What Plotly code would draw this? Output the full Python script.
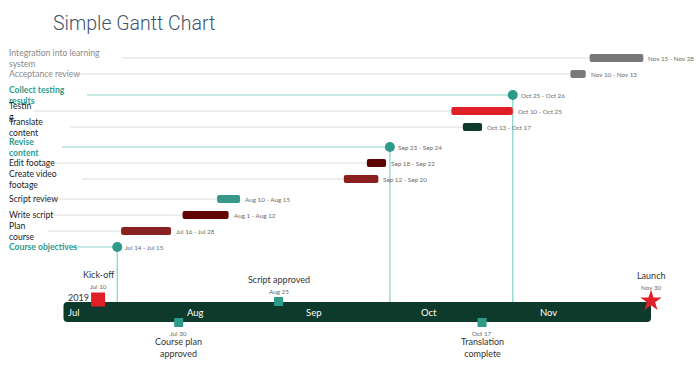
import datetime as dt
import plotly.graph_objects as go

# ---------------- data ----------------
tasks = ["Integration into learning<br>system", "Acceptance review", "Collect testing<br>results", "Testin<br>g",
         "Translate<br>content", "Revise<br>content", "Edit footage", "Create video<br>footage",
         "Script review", "Write script", "Plan<br>course", "Course objectives"]
task_kind = ["task", "task", "milestone", "task", "task", "milestone", "task", "task",
             "task", "task", "task", "milestone"]
task_start = ["2019-11-15", "2019-11-10", "2019-10-25", "2019-10-10", "2019-10-13", "2019-09-23",
              "2019-09-18", "2019-09-12", "2019-08-10", "2019-08-01", "2019-07-16", "2019-07-14"]
task_end = ["2019-11-28", "2019-11-13", "2019-10-26", "2019-10-25", "2019-10-17", "2019-09-24",
            "2019-09-22", "2019-09-20", "2019-08-15", "2019-08-12", "2019-07-28", "2019-07-15"]
task_color = ["#787878", "#7a7a7a", "#2e9b8a", "#e01f26", "#0f3a2b", "#2e9b8a",
              "#5c0202", "#8a1f1f", "#36978a", "#630303", "#8a2121", "#2e9b8a"]
label_color = ["#8a8a8a", "#8a8a8a", "#2e9b8a", "#1a1a1a", "#1a1a1a", "#2e9b8a",
               "#1a1a1a", "#1a1a1a", "#1a1a1a", "#1a1a1a", "#1a1a1a", "#2e9b8a"]

tl_names = ["Kick-off", "Course plan<br>approved", "Script approved", "Translation<br>complete", "Launch"]
tl_dates = ["2019-07-10", "2019-07-30", "2019-08-25", "2019-10-17", "2019-11-30"]
tl_side = ["above", "below", "above", "below", "above"]
tl_symbol = ["square", "square", "square", "square", "star"]
tl_color = ["#e01f26", "#2e9b8a", "#2e9b8a", "#2e9b8a", "#e01f26"]

months = ["Jul", "Aug", "Sep", "Oct", "Nov"]
month_starts = ["2019-07-01", "2019-08-01", "2019-09-01", "2019-10-01", "2019-11-01"]
year_label = "2019"
timeline_start = "2019-07-01"
timeline_end = "2019-12-01"
title = "Simple Gantt Chart"

# ---------------- layout constants ----------------
W, H = 700, 370
PX0 = 63.5      # pixel of timeline start
PPD = 3.84      # pixels per day
row_y = [58, 74, 95, 111, 127, 147, 163, 179, 199, 215, 231, 247]
guide_px = [122, 76, 87, 33, 70, 62, 52, 82, 55, 52, 48, 72]
tl_size = [14, 9, 9, 9, 16]
tl_dayshift = [0, 1, 1, 1, 1]
BAR_TOP, BAR_BOT = 302, 322
BAR_MID = (BAR_TOP + BAR_BOT) / 2
FONT = "Lato"
GUIDE_GRAY = "#dcdcdc"
GUIDE_TEAL = "#8ad6cc"
SMALL = dict(family=FONT, size=6.3, color="#6b6b6b")


def D(s):
    return dt.datetime.strptime(s, "%Y-%m-%d")


t0 = D(timeline_start)
x_lo = t0 - dt.timedelta(days=PX0 / PPD)
x_hi = x_lo + dt.timedelta(days=W / PPD)


def px_to_date(px):
    return x_lo + dt.timedelta(days=px / PPD)


def fmt(d):
    return f"{d:%b} {d.day}"


fig = go.Figure()
shapes = []
annotations = []

# guide lines + left labels
for i, name in enumerate(tasks):
    s, e = D(task_start[i]), D(task_end[i])
    milestone = task_kind[i] == "milestone"
    x_end = e if milestone else s
    shapes.append(dict(type="line", xref="x", yref="y", layer="below",
                       x0=px_to_date(guide_px[i]), x1=x_end, y0=row_y[i], y1=row_y[i],
                       line=dict(color=GUIDE_TEAL if milestone else GUIDE_GRAY, width=1)))
    if milestone:
        shapes.append(dict(type="line", xref="x", yref="y", layer="below",
                           x0=e, x1=e, y0=row_y[i], y1=BAR_TOP,
                           line=dict(color=GUIDE_TEAL, width=1.3)))
    annotations.append(dict(x=7 / W, xref="paper", y=row_y[i], yref="y", text=name,
                            showarrow=False, xanchor="left", yanchor="middle", align="left",
                            font=dict(family=FONT, size=8.6, color=label_color[i],
                                      weight="bold" if milestone else "normal")))
    # range label next to bar / milestone
    annotations.append(dict(x=e if milestone else e + dt.timedelta(days=1), xref="x",
                            y=row_y[i], yref="y", text=f"{fmt(s)} - {fmt(e)}",
                            showarrow=False, xanchor="left", yanchor="middle",
                            xshift=6 if milestone else 3, font=SMALL))

# task bars
bi = [i for i, k in enumerate(task_kind) if k == "task"]
fig.add_trace(go.Bar(
    orientation="h",
    y=[row_y[i] for i in bi],
    base=[D(task_start[i]) for i in bi],
    x=[((D(task_end[i]) + dt.timedelta(days=1)) - D(task_start[i])).total_seconds() * 1000 for i in bi],
    width=8,
    marker=dict(color=[task_color[i] for i in bi], cornerradius=2, line=dict(width=0)),
    hoverinfo="skip",
))

# milestone circles
mi = [i for i, k in enumerate(task_kind) if k == "milestone"]
fig.add_trace(go.Scatter(
    mode="markers",
    x=[D(task_end[i]) for i in mi],
    y=[row_y[i] for i in mi],
    marker=dict(symbol="circle", size=10, color=[task_color[i] for i in mi]),
    hoverinfo="skip",
))

# timeline bar
fig.add_trace(go.Bar(
    orientation="h",
    y=[BAR_MID],
    base=[D(timeline_start)],
    x=[(D(timeline_end) - D(timeline_start)).total_seconds() * 1000],
    width=BAR_BOT - BAR_TOP,
    marker=dict(color="#0d3a2a", cornerradius=4, line=dict(width=0)),
    hoverinfo="skip",
))

for m, ms in zip(months, month_starts):
    annotations.append(dict(x=D(ms), xref="x", y=BAR_MID, yref="y", text=m, showarrow=False,
                            xanchor="left", yanchor="middle", xshift=2,
                            font=dict(family=FONT, size=9.5, color="#ffffff")))
annotations.append(dict(x=D(timeline_start), xref="x", y=297, yref="y", text=year_label,
                        showarrow=False, xanchor="left", yanchor="middle", xshift=2,
                        font=dict(family=FONT, size=9, color="#333333")))

# timeline milestones
for i, name in enumerate(tl_names):
    d = D(tl_dates[i])
    xd = d + dt.timedelta(days=tl_dayshift[i])
    sz = tl_size[i]
    if tl_side[i] == "above":
        cy = BAR_TOP - sz / 2 + 4 if tl_symbol[i] == "square" else BAR_TOP - 1
        if i == 0:
            cy = 299.5
        top = cy - sz / 2
        annotations.append(dict(x=xd, xref="x", y=top - 6, yref="y", text=fmt(d), showarrow=False,
                                xanchor="center", yanchor="middle", font=SMALL))
        annotations.append(dict(x=xd, xref="x", y=top - 18, yref="y", text=name, showarrow=False,
                                xanchor="center", yanchor="middle",
                                font=dict(family=FONT, size=9, color="#333333")))
    else:
        cy = BAR_BOT + 0.5
        bot = cy + sz / 2
        annotations.append(dict(x=xd, xref="x", y=bot + 6, yref="y", text=fmt(d), showarrow=False,
                                xanchor="center", yanchor="middle", font=SMALL))
        annotations.append(dict(x=xd, xref="x", y=bot + 7, yref="y", text=name, showarrow=False,
                                xanchor="center", yanchor="top", align="center",
                                font=dict(family=FONT, size=9, color="#333333")))
    fig.add_trace(go.Scatter(
        mode="markers", x=[xd], y=[cy],
        marker=dict(symbol=tl_symbol[i], size=sz, color=tl_color[i], line=dict(width=0)),
        hoverinfo="skip",
    ))

annotations.append(dict(x=51 / W, xref="paper", y=23, yref="y", text=title, showarrow=False,
                        xanchor="left", yanchor="middle",
                        font=dict(family="Roboto", size=19.5, color="#44546a", weight=300)))

fig.update_layout(
    width=W, height=H,
    margin=dict(l=0, r=0, t=0, b=0),
    paper_bgcolor="white", plot_bgcolor="white",
    showlegend=False,
    barmode="overlay",
    xaxis=dict(type="date", range=[x_lo, x_hi], visible=False, fixedrange=True),
    yaxis=dict(range=[H, 0], visible=False, fixedrange=True),
    shapes=shapes,
    annotations=annotations,
)

fig.write_html("out.html", config={"displayModeBar": False},
               post_script="document.body.style.margin='0';document.body.style.overflow='hidden';")
